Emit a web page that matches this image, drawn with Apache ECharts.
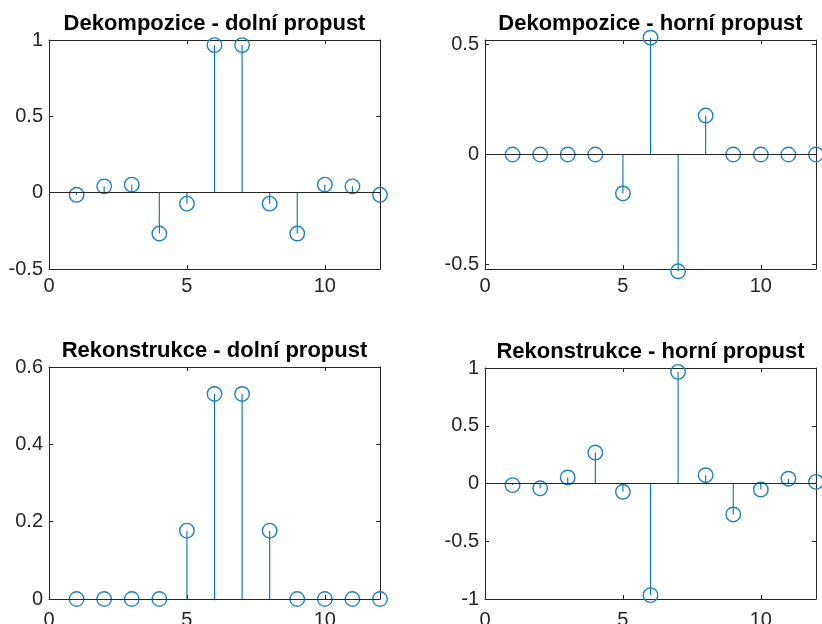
<!DOCTYPE html>
<html>
<head>
<meta charset="utf-8">
<script src="https://cdn.jsdelivr.net/npm/echarts@6/dist/echarts.min.js"></script>
<style>
html,body{margin:0;padding:0;background:#fff;}
#chart{width:822px;height:624px;}
</style>
</head>
<body>
<div id="chart"></div>
<script>
// ---- data ----
const xIndex = [1, 2, 3, 4, 5, 6, 7, 8, 9, 10, 11, 12];
const titles = [
  'Dekompozice - dolní propust',
  'Dekompozice - horní propust',
  'Rekonstrukce - dolní propust',
  'Rekonstrukce - horní propust'
];
const loD = [-0.0138, 0.0414, 0.0525, -0.2679, -0.0718, 0.9667, 0.9667, -0.0718, -0.2679, 0.0525, 0.0414, -0.0138];
const hiD = [0, 0, 0, 0, -0.1768, 0.5303, -0.5303, 0.1768, 0, 0, 0, 0];
const loR = [0, 0, 0, 0, 0.1768, 0.5303, 0.5303, 0.1768, 0, 0, 0, 0];
const hiR = [-0.0138, -0.0414, 0.0525, 0.2679, -0.0718, -0.9667, 0.9667, 0.0718, -0.2679, -0.0525, 0.0414, 0.0138];
const xTicks = [0, 5, 10];
const yTicks = [
  [-0.5, 0, 0.5, 1],
  [-0.5, 0, 0.5],
  [0, 0.2, 0.4, 0.6],
  [-1, -0.5, 0, 0.5, 1]
];
const yLimits = [[-0.5, 1], [-0.52, 0.52], [0, 0.6], [-1, 1]];
const xLimits = [0, 12];
const seriesValues = [loD, hiD, loR, hiR];

// ---- layout / style ----
const grids = [
  {left: 49, top: 40, width: 331, height: 229},
  {left: 485, top: 40, width: 331, height: 229},
  {left: 49, top: 367, width: 331, height: 232},
  {left: 485, top: 368, width: 331, height: 231}
];
const xLabelMargins = [7, 7, 11, 11];
const BLUE = '#0072BD';
const AX = '#262626';
const FONT = '"Liberation Sans", Arial, Helvetica, sans-serif';

const xAxes = [], yAxes = [], series = [], title = [];
grids.forEach((g, i) => {
  const common = {
    type: 'value',
    gridIndex: i,
    splitLine: {show: false},
    axisLine: {show: true, onZero: false, lineStyle: {color: AX, width: 1}},
    axisTick: {show: true, inside: true, length: 4, lineStyle: {color: AX, width: 1}}
  };
  // bottom x
  xAxes.push(Object.assign({}, common, {
    position: 'bottom', min: xLimits[0], max: xLimits[1],
    axisTick: Object.assign({}, common.axisTick, {customValues: xTicks}),
    axisLabel: {customValues: xTicks, color: AX, fontSize: 20, fontFamily: FONT, margin: xLabelMargins[i]}
  }));
  // top x (box)
  xAxes.push(Object.assign({}, common, {
    position: 'top', min: xLimits[0], max: xLimits[1],
    axisTick: Object.assign({}, common.axisTick, {customValues: xTicks}),
    axisLabel: {show: false}
  }));
  // left y
  yAxes.push(Object.assign({}, common, {
    position: 'left', min: yLimits[i][0], max: yLimits[i][1],
    axisTick: Object.assign({}, common.axisTick, {customValues: yTicks[i]}),
    axisLabel: {customValues: yTicks[i], color: AX, fontSize: 20, fontFamily: FONT, margin: 6,
      formatter: v => String(v)}
  }));
  // right y (box)
  yAxes.push(Object.assign({}, common, {
    position: 'right', min: yLimits[i][0], max: yLimits[i][1],
    axisTick: Object.assign({}, common.axisTick, {customValues: yTicks[i]}),
    axisLabel: {show: false}
  }));

  title.push({
    text: titles[i],
    left: g.left + g.width / 2,
    textAlign: 'center',
    top: g.top - 27,
    padding: 0,
    textStyle: {fontFamily: FONT, fontWeight: 'bold', fontSize: 22, color: '#000'}
  });

  const pts = xIndex.map((x, k) => [x, seriesValues[i][k]]);
  // stems
  series.push({
    type: 'custom',
    xAxisIndex: 2 * i, yAxisIndex: 2 * i,
    data: pts,
    clip: false,
    silent: true,
    renderItem: function (params, api) {
      const x = api.value(0), y = api.value(1);
      const p0 = api.coord([x, 0]);
      const p1 = api.coord([x, y]);
      return {
        type: 'line',
        shape: {x1: p0[0], y1: p0[1], x2: p1[0], y2: p1[1]},
        style: {stroke: BLUE, lineWidth: 1.1}
      };
    },
    markLine: {
      silent: true, symbol: 'none', label: {show: false},
      lineStyle: {color: AX, width: 1, type: 'solid'},
      data: [{yAxis: 0}],
      animation: false
    },
    z: 2
  });
  // circles
  series.push({
    type: 'scatter',
    xAxisIndex: 2 * i, yAxisIndex: 2 * i,
    data: pts,
    clip: false,
    silent: true,
    symbol: 'circle',
    symbolSize: 14.5,
    itemStyle: {color: 'rgba(0,0,0,0)', borderColor: '#1f80c4', borderWidth: 1.4, opacity: 1},
    z: 3
  });
});

const chart = echarts.init(document.getElementById('chart'), null, {renderer: 'canvas'});
chart.setOption({
  animation: false,
  backgroundColor: '#ffffff',
  title: title,
  grid: grids.map(g => Object.assign({containLabel: false, outerBoundsMode: 'none'}, g)),
  xAxis: xAxes,
  yAxis: yAxes,
  series: series
});
</script>
</body>
</html>
